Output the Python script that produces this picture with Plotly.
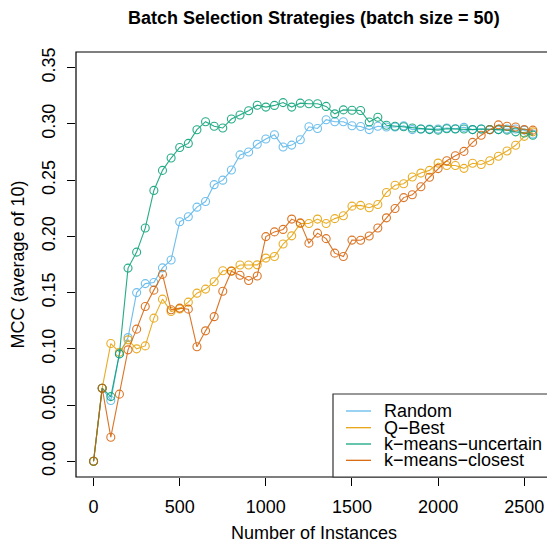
import plotly.graph_objects as go

# ---- data ----
instances = list(range(0, 2551, 50))

random_mcc = [0.000, 0.065, 0.054, 0.0955, 0.110, 0.150, 0.158, 0.159, 0.172, 0.179,
              0.213, 0.2175, 0.226, 0.231, 0.246, 0.250, 0.259, 0.2725, 0.275, 0.282,
              0.2866, 0.2904, 0.2795, 0.2812, 0.286, 0.2975, 0.296, 0.3038, 0.302, 0.302,
              0.2984, 0.2978, 0.295, 0.298, 0.2973, 0.2973, 0.2984, 0.295, 0.2955, 0.2955,
              0.2955, 0.2964, 0.2958, 0.297, 0.295, 0.2955, 0.295, 0.295, 0.2955, 0.2955,
              0.2945, 0.291]

qbest_mcc = [0.000, 0.065, 0.1047, 0.097, 0.108, 0.100, 0.1026, 0.1273, 0.1442, 0.1332,
             0.1355, 0.1415, 0.1495, 0.1531, 0.1596, 0.1694, 0.1694, 0.1745, 0.1745, 0.1747,
             0.1807, 0.1821, 0.1932, 0.2005, 0.2115, 0.2115, 0.2154, 0.2115, 0.2158, 0.2183,
             0.2269, 0.2276, 0.2255, 0.2283, 0.2391, 0.2455, 0.2468, 0.2528, 0.2563, 0.2587,
             0.2652, 0.263, 0.263, 0.2605, 0.265, 0.264, 0.2673, 0.2713, 0.276, 0.281,
             0.289, 0.293]

kmu_mcc = [0.000, 0.065, 0.0575, 0.0955, 0.1718, 0.186, 0.2074, 0.2409, 0.2587, 0.2697,
           0.2791, 0.2827, 0.2949, 0.302, 0.298, 0.2964, 0.3044, 0.308, 0.3118, 0.3167,
           0.315, 0.3165, 0.319, 0.315, 0.3185, 0.318, 0.318, 0.3156, 0.309, 0.3125,
           0.3122, 0.312, 0.3017, 0.306, 0.2988, 0.298, 0.2975, 0.2964, 0.2955, 0.295,
           0.2945, 0.2958, 0.2955, 0.2955, 0.295, 0.2955, 0.295, 0.295, 0.2945, 0.293,
           0.292, 0.290]

kmc_mcc = [0.000, 0.065, 0.0214, 0.0597, 0.0991, 0.1175, 0.1376, 0.1522, 0.1662, 0.1347,
           0.1362, 0.1353, 0.1018, 0.116, 0.1286, 0.1512, 0.169, 0.1655, 0.1608, 0.1648,
           0.1998, 0.204, 0.2062, 0.2154, 0.212, 0.194, 0.2029, 0.198, 0.1851, 0.1821,
           0.1967, 0.1966, 0.2003, 0.2074, 0.2165, 0.2248, 0.2345, 0.237, 0.2442, 0.2526,
           0.2603, 0.2673, 0.2717, 0.2756, 0.2836, 0.2900, 0.2949, 0.2992, 0.298, 0.2973,
           0.295, 0.2945]

series_names = ["Random", "Q\u2212Best", "k\u2212means\u2212uncertain", "k\u2212means\u2212closest"]
series_values = [random_mcc, qbest_mcc, kmu_mcc, kmc_mcc]
series_colors = ["#56B4E9", "#E69F00", "#009E73", "#D55E00"]

x_tick_vals = [0, 500, 1000, 1500, 2000, 2500]
y_tick_vals = [0.00, 0.05, 0.10, 0.15, 0.20, 0.25, 0.30, 0.35]
y_tick_text = ["0.00", "0.05", "0.10", "0.15", "0.20", "0.25", "0.30", "0.35"]

FONT = "Liberation Sans, Arial, Helvetica, sans-serif"
FS = 18

fig = go.Figure()
for name, vals, col in zip(series_names, series_values, series_colors):
    fig.add_trace(go.Scatter(
        x=instances, y=vals, mode="lines+markers", name=name,
        line=dict(color=col, width=1.1),
        marker=dict(symbol="circle-open", size=8, color=col, line=dict(width=1.1, color=col)),
        opacity=0.85, showlegend=False, cliponaxis=False,
    ))

W, H = 547, 542
L, R, T, B = 76, 0, 52, 65
pw, ph = W - L - R, H - T - B

def px_x(p):
    return (p - L) / pw

def px_y(p):
    return (H - B - p) / ph

fig.update_layout(
    width=W, height=H,
    margin=dict(l=L, r=R, t=T, b=B),
    paper_bgcolor="white", plot_bgcolor="white",
    font=dict(family=FONT, size=FS, color="black"),
    xaxis=dict(range=[-102, 2632], tickvals=x_tick_vals, ticks="outside", ticklen=8,
               tickwidth=1, tickcolor="black", showgrid=False, zeroline=False,
               showline=False, ticklabelstandoff=5, tickfont=dict(size=FS)),
    yaxis=dict(range=[-0.014, 0.364], tickvals=y_tick_vals, ticktext=y_tick_text,
               ticks="outside", ticklen=8, tickwidth=1, tickcolor="black",
               showgrid=False, zeroline=False, showline=False, tickangle=-90,
               ticklabelstandoff=5, tickfont=dict(size=FS)),
)

shapes = [
    dict(type="rect", xref="paper", yref="paper", x0=0, x1=1.05, y0=0, y1=1,
         line=dict(color="black", width=1.2), layer="above"),
    dict(type="rect", xref="paper", yref="paper", x0=px_x(333), x1=1.05, y0=0, y1=px_y(394),
         line=dict(color="#333333", width=1.2), fillcolor="white", layer="above"),
]
legend_rows = [411, 427.7, 444, 460.3]
annotations = []
for name, col, ry in zip(series_names, series_colors, legend_rows):
    shapes.append(dict(type="line", xref="paper", yref="paper", x0=px_x(346), x1=px_x(371),
                       y0=px_y(ry), y1=px_y(ry), line=dict(color=col, width=1.2), layer="above"))
    annotations.append(dict(xref="paper", yref="paper", x=px_x(382), y=px_y(ry), text=name,
                            showarrow=False, xanchor="left", yanchor="middle",
                            font=dict(size=FS, family=FONT)))

annotations += [
    dict(xref="paper", yref="paper", x=px_x(313.7), y=px_y(18),
         text="<b>Batch Selection Strategies (batch size = 50)</b>", showarrow=False,
         xanchor="center", yanchor="middle", font=dict(size=FS, family=FONT)),
    dict(xref="paper", yref="paper", x=px_x(313.7), y=px_y(533), text="Number of Instances",
         showarrow=False, xanchor="center", yanchor="middle", font=dict(size=FS, family=FONT)),
    dict(xref="paper", yref="paper", x=px_x(18), y=px_y(264.6), text="MCC (average of 10)",
         textangle=-90, showarrow=False, xanchor="center", yanchor="middle",
         font=dict(size=FS, family=FONT)),
]
fig.update_layout(shapes=shapes, annotations=annotations)

fig.write_html("out.html", config={"displayModeBar": False},
               post_script="document.body.style.margin='0';document.body.style.overflow='hidden';")
